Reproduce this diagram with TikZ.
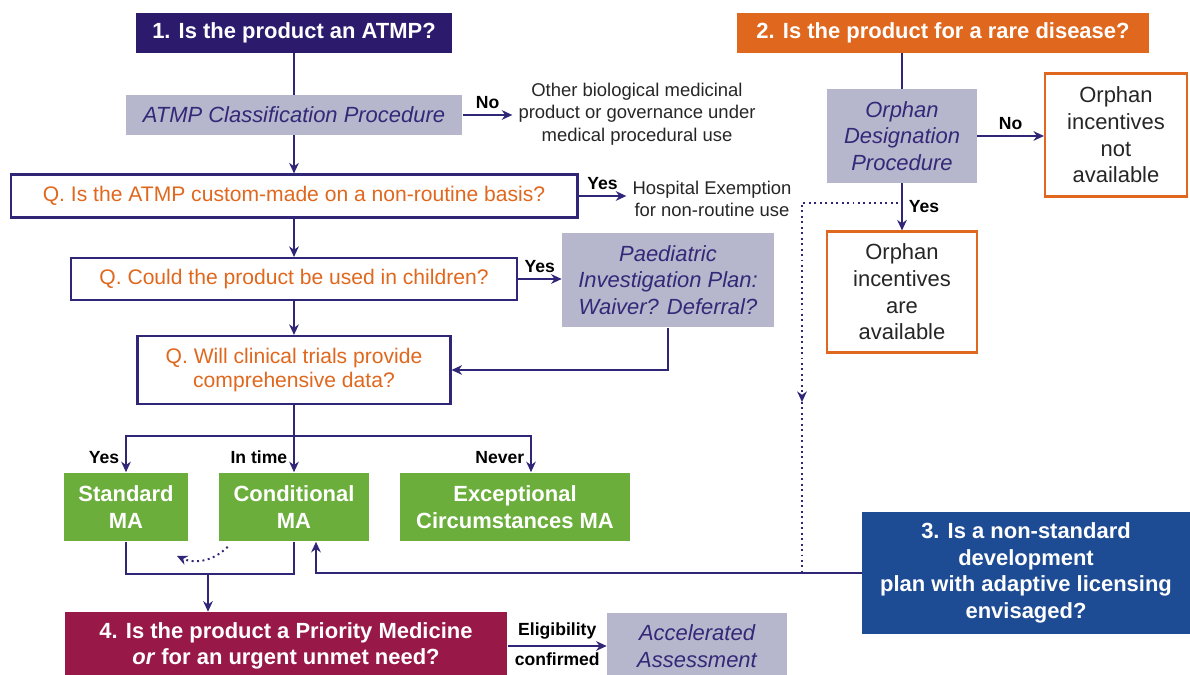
\documentclass[tikz,border=0pt]{standalone}
\usepackage{fontspec}
\setmainfont{Liberation Sans}
\usetikzlibrary{arrows.meta}

\definecolor{atmppurple}{RGB}{44,26,108}
\definecolor{linecol}{RGB}{48,38,120}
\definecolor{procgray}{RGB}{182,183,204}
\definecolor{proctext}{RGB}{52,40,120}
\definecolor{rareorange}{RGB}{224,104,30}
\definecolor{magreen}{RGB}{108,174,60}
\definecolor{primered}{RGB}{152,24,72}
\definecolor{adaptblue}{RGB}{30,76,148}

\begin{document}
\begin{tikzpicture}[x=0.02cm,y=-0.02cm,>={Stealth[length=6pt,width=5.5pt]},
    link/.style={draw=linecol,line width=1.1pt},
    head/.style={fill=#1,text=white,inner sep=0pt,align=center,
      font=\fontsize{12.5}{15.2}\selectfont\bfseries},
    proc/.style={fill=procgray,text=proctext,inner sep=0pt,align=center,
      font=\fontsize{12.5}{15}\selectfont\itshape},
    qbox/.style={draw=linecol,line width=1.2pt,fill=white,text=rareorange,inner sep=0pt,
      align=center,font=\fontsize{12}{14}\selectfont},
    mabox/.style={fill=magreen,text=white,inner sep=0pt,align=center,
      font=\fontsize{12.5}{15}\selectfont\bfseries},
    orbox/.style={draw=rareorange,line width=1.2pt,fill=white,text=black!85,inner sep=0pt,
      align=center,font=\fontsize{12.5}{15.2}\selectfont},
    note/.style={text=black!85,align=center,font=\fontsize{10.5}{12.8}\selectfont},
    lab/.style={font=\fontsize{10}{12}\selectfont\bfseries}]
\useasboundingbox (0,0) rectangle (1190,675);

% left column: ATMP route
\node[head=atmppurple,minimum width=6.34cm,minimum height=0.8cm] (atmpq) at (294,33) {1. Is the product an ATMP?};
\node[proc,minimum width=6.74cm,minimum height=0.8cm] (classif) at (294,115) {ATMP Classification Procedure};
\node[note] (otherbio) at (637,114) {Other biological medicinal\\product or governance under\\medical procedural use};
\node[qbox,minimum width=11.34cm,minimum height=0.86cm] (custom) at (294,196) {Q. Is the ATMP custom-made on a non-routine basis?};
\node[note] (hospex) at (712,199) {Hospital Exemption\\for non-routine use};
\node[qbox,minimum width=8.92cm,minimum height=0.84cm] (children) at (294,279) {Q. Could the product be used in children?};
\node[proc,minimum width=4.24cm,minimum height=1.9cm] (pip) at (668,280) {Paediatric\\Investigation Plan:\\Waiver? Deferral?};
\node[qbox,minimum width=6.26cm,minimum height=1.36cm] (trials) at (294,370) {Q. Will clinical trials provide\\comprehensive data?};

% marketing authorisations
\node[mabox,minimum width=2.5cm,minimum height=1.38cm] (standard) at (126,507) {Standard\\MA};
\node[mabox,minimum width=3.0cm,minimum height=1.38cm] (conditional) at (294,507) {Conditional\\MA};
\node[mabox,minimum width=4.6cm,minimum height=1.38cm] (exceptional) at (515,507) {Exceptional\\Circumstances MA};
\node[head=primered,minimum width=8.86cm,minimum height=1.36cm] (priority) at (286,646) {4. Is the product a Priority Medicine\\\textit{or} for an urgent unmet need?};
\node[proc,minimum width=3.6cm,minimum height=1.34cm] (accel) at (697,646) {Accelerated\\Assessment};

% right column: orphan route
\node[head=rareorange,minimum width=8.24cm,minimum height=0.8cm] (rareq) at (943,33) {2. Is the product for a rare disease?};
\node[proc,minimum width=3.0cm,minimum height=1.88cm] (orphdes) at (902,136) {Orphan\\Designation\\Procedure};
\node[orbox,minimum width=2.84cm,minimum height=2.46cm] (notavail) at (1116,135) {Orphan\\incentives\\not\\available};
\node[orbox,minimum width=3.0cm,minimum height=2.42cm] (avail) at (902,292) {Orphan\\incentives\\are\\available};
\node[head=adaptblue,minimum width=6.56cm,minimum height=2.44cm] (adaptq) at (1026,573) {3. Is a non-standard\\development\\plan with adaptive licensing\\envisaged?};

\draw[link] (atmpq) -- (classif);
\draw[link,->] (classif) -- (custom);
\draw[link,->] (classif.east) -- (otherbio.west |- classif.east) node[lab,midway,above] {No};
\draw[link,->] (custom.east) -- (hospex.west |- custom.east) node[lab,midway,above] {Yes};
\draw[link,->] (custom) -- (children);
\draw[link,->] (children.east) -- (pip.west |- children.east) node[lab,midway,above] {Yes};
\draw[link,->] (children) -- (trials);
\draw[link,->] (pip.south) |- (trials.east);

\coordinate (split) at (294,436);
\draw[link] (trials) -- (split);
\draw[link,->] (split) -| (standard.north) node[lab,left,pos=0.8] {Yes};
\draw[link,->] (split) -- (conditional) node[lab,left,pos=0.6] {In time};
\draw[link,->] (split) -| ([xshift=0.32cm]exceptional.north) node[lab,left,pos=0.8] {Never};

\coordinate (merge) at (208,574);
\draw[link] (standard.south) |- (merge) -| (conditional.south);
\draw[link,->] (merge) -- (merge |- priority.north);
\draw[link,dotted,->] ([shift={(0.18cm,-0.1cm)}]conditional.south west) to[bend left=35] ([shift={(-0.24cm,-0.28cm)}]standard.south east);
\draw[link,->] (adaptq.west) -| ([xshift=0.44cm]conditional.south);
\draw[link,->] (priority.east) -- (priority.east -| accel.west)
  node[lab,midway,above] {Eligibility} node[lab,midway,below] {confirmed};

\draw[link] (orphdes.north |- rareq.south) -- (orphdes.north);
\draw[link,->] (orphdes.east) -- (orphdes.east -| notavail.west) node[lab,midway,above] {No};
\draw[link,->] (orphdes) -- (avail) node[lab,midway,right] {Yes};

% dotted link down to the adaptive licensing line
\coordinate (dotstart) at (898,203);
\coordinate (dotmid) at (802,402);
\coordinate (dotend) at (802,573);
\draw[link,dotted,->] (dotstart) -| (dotmid);
\draw[link,dotted] (dotmid) -- (dotend);
\end{tikzpicture}
\end{document}
